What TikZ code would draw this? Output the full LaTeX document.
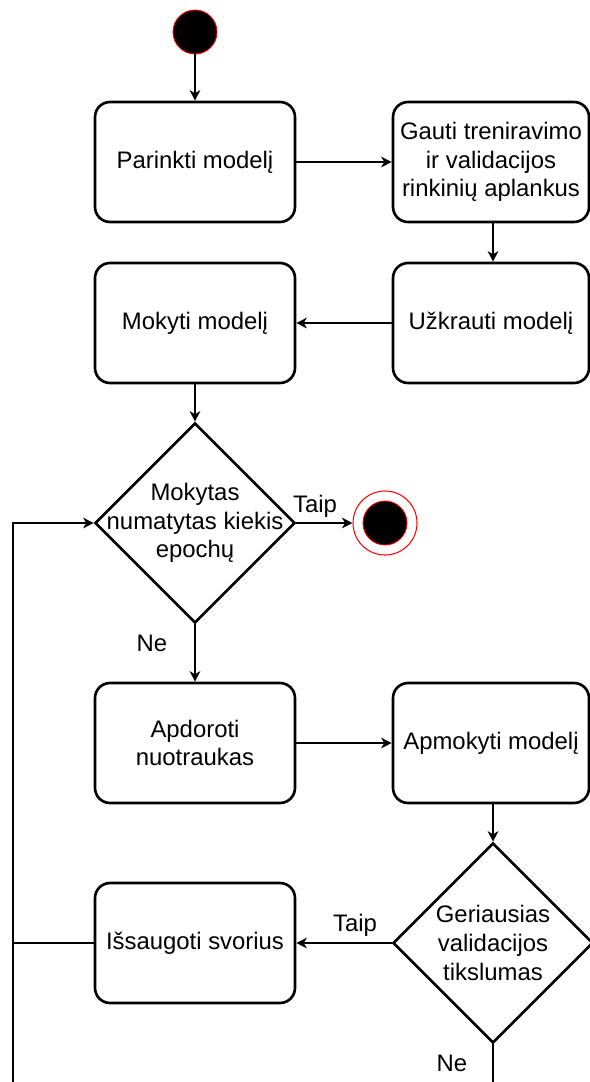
\documentclass[tikz,border=0pt]{standalone}
\usepackage{fontspec}
\setmainfont{Liberation Sans}
\usetikzlibrary{arrows.meta,shapes.geometric}

\definecolor{ringred}{RGB}{255,0,0}

\tikzset{
  actbox/.style={draw=black, line width=1.5pt, rounded corners=0.3cm, fill=white,
    minimum width=4cm, minimum height=2.4cm, align=center, inner sep=1pt,
    font=\fontsize{13.6}{16.4}\selectfont},
  rightbox/.style={actbox, minimum width=3.92cm},
  decision/.style={draw=black, line width=1.5pt, diamond, aspect=1, fill=white,
    minimum width=4cm, minimum height=4cm, inner sep=0pt},
  dectext/.style={align=center, inner sep=0pt, font=\fontsize{13.6}{16.4}\selectfont},
  edgelabel/.style={inner sep=0pt, font=\fontsize{13.6}{16.4}\selectfont},
  flow/.style={draw=black, line width=0.9pt, -{Stealth[length=6pt,width=6pt,inset=1.8pt]}},
  plain/.style={draw=black, line width=0.9pt},
  startdot/.style={circle, fill=black, draw=ringred, line width=0.5pt,
    minimum size=0.88cm, inner sep=0pt},
  endring/.style={circle, draw=ringred, line width=0.6pt, fill=white,
    minimum size=1.28cm, inner sep=0pt},
  enddot/.style={circle, fill=black, draw=ringred, line width=0.5pt,
    minimum size=0.88cm, inner sep=0pt}
}

\begin{document}
\begin{tikzpicture}[x=0.02cm, y=-0.02cm]
  \useasboundingbox (0,0) rectangle (590,1082);
  \fill[white] (0,0) rectangle (590,1082);
  \clip (0,0) rectangle (590,1082);

  % start and end states
  \node[startdot] (start) at (195,32) {};
  \node[endring] (endR) at (385,523) {};
  \node[enddot] (endD) at (385,523) {};

  % activities
  \node[actbox] (pick) at (195,162) {Parinkti modelį};
  \node[rightbox] (fetch) at (491,162) {Gauti treniravimo\\ir validacijos\\rinkinių aplankus};
  \node[rightbox] (load) at (491,323) {Užkrauti modelį};
  \node[actbox] (train) at (195,323) {Mokyti modelį};
  \node[actbox] (prep) at (195,743) {Apdoroti\\nuotraukas};
  \node[rightbox] (fit) at (491,743) {Apmokyti modelį};
  \node[actbox] (save) at (195,943) {Išsaugoti svorius};

  % decisions
  \node[decision] (epochs) at (195,523) {};
  \node[dectext] (epochsT) at (epochs) {Mokytas\\numatytas kiekis\\epochų};
  \node[decision] (best) at (493,943) {};
  \node[dectext] (bestT) at (best) {Geriausias\\validacijos\\tikslumas};

  % loop back path and open ends
  \coordinate (loopTop) at (13,523);
  \coordinate (loopJoin) at (13,943);
  \coordinate (loopBot) at (13,1082);
  \coordinate (noBot) at (best.south |- 0,1082);

  % connectors
  \draw[flow] (start) -- (pick);
  \draw[flow] (pick) -- (fetch);
  \draw[flow] (fetch.south -| 493,0) -- (load.north -| 493,0);
  \draw[flow] (load) -- (train);
  \draw[flow] (train) -- (epochs.north);
  \draw[flow] (epochs.east) -- (endR.west);
  \draw[flow] (epochs.south) -- (prep);
  \draw[flow] (prep) -- (fit);
  \draw[flow] (fit.south -| best.north) -- (best.north);
  \draw[flow] (best.west) -- (save.east);
  \draw[plain] (save.west) -- (loopJoin);
  \draw[flow] (loopBot) -- (loopTop) -- (epochs.west);
  \draw[plain] (best.south) -- (noBot);

  % branch labels
  \node[edgelabel] (yes1) at (315,506) {Taip};
  \node[edgelabel] (no1) at (152,643) {Ne};
  \node[edgelabel] (yes2) at (355,925) {Taip};
  \node[edgelabel] (no2) at (452,1063) {Ne};
\end{tikzpicture}
\end{document}
